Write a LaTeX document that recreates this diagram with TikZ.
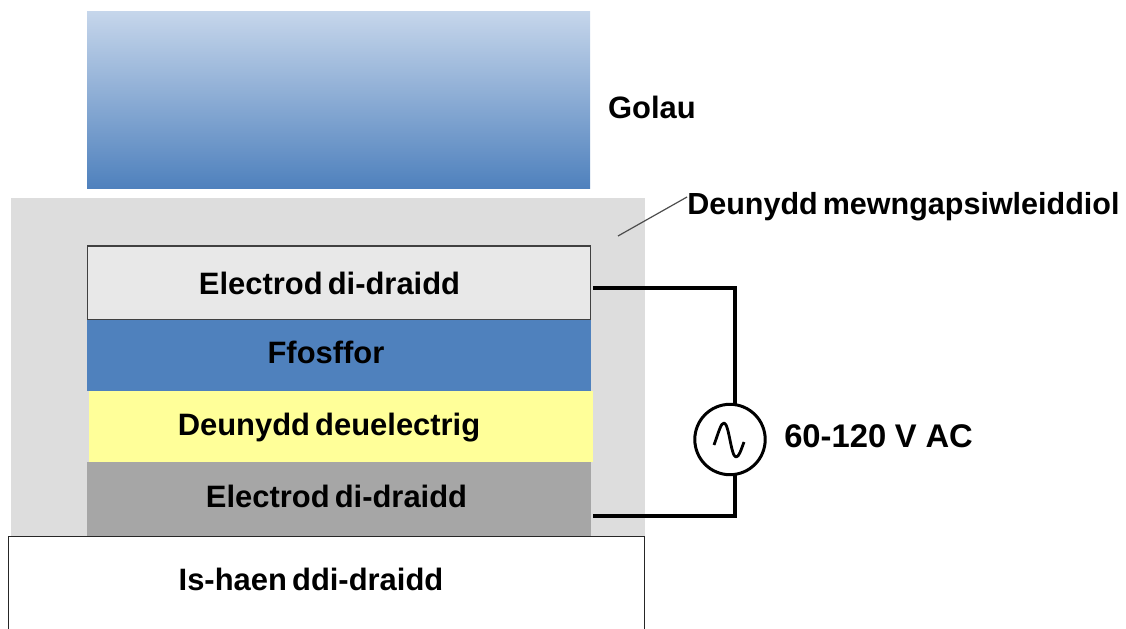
\documentclass[tikz,border=0pt]{standalone}
\usepackage{fontspec}
\setmainfont[WordSpace=0.6]{Liberation Sans}
\definecolor{lightblue}{HTML}{C6D6EB}
\definecolor{phosphor}{HTML}{4F81BD}
\definecolor{dielectric}{HTML}{FFFF99}
\definecolor{encap}{HTML}{DDDDDD}
\definecolor{electrode}{HTML}{E8E8E8}
\definecolor{backelectrode}{HTML}{A6A6A6}
\begin{document}
\begin{tikzpicture}[x=0.25mm, y=-0.25mm,
  lbl/.style = {font=\fontsize{22}{26}\selectfont\bfseries, inner sep=0pt},
  layer/.style = {inner sep=0pt, outer sep=0pt, minimum width=126mm, minimum height=17.75mm},
  wire/.style = {line width=0.8mm, black}]
\useasboundingbox (0,0) rectangle (1126,629);
% light and encapsulation
\shade[top color=lightblue, bottom color=phosphor] (87,11) rectangle (590,188);
\fill[encap] (11,198) rectangle (645,536);
% stack of layers
\node[layer, fill=electrode, draw=black!75, line width=0.3mm, minimum width=125.75mm, minimum height=18.5mm] (top) at (339,283) {};
\node[layer, fill=phosphor] (phos) at (339,355) {};
\node[layer, fill=dielectric] (diel) at (341,426.5) {};
\node[layer, fill=backelectrode, minimum height=18.5mm] (back) at (339,499) {};
\node[lbl] at (329.5,283) (toplbl) {Electrod di-draidd};
\node[lbl] at (326,352) (phoslbl) {Ffosffor};
\node[lbl] at (329,428) (diellbl) {Deunydd deuelectrig};
\node[lbl] at (336.5,496) (backlbl) {Electrod di-draidd};
% substrate
\node[draw=black!85, fill=white, line width=0.3mm, outer sep=0pt, minimum width=159mm, minimum height=30mm, anchor=north west] (sub) at (8.5,536.5) {};
\node[lbl] at (311,579) (sublbl) {Is-haen ddi-draidd};
% labels on the right
\node[lbl] at (652,107) (light) {Golau};
\node[lbl, font=\fontsize{21.7}{26}\selectfont\bfseries, anchor=west] at (687,207) (enc) {Deunydd mewngapsiwleiddiol};
\coordinate (encpt) at (618,236);
\draw[black!70, line width=0.3mm] (enc.north west |- 0,197) -- (encpt);
% circuit
\node[draw, circle, line width=0.75mm, minimum size=17.6mm, inner sep=0pt, outer sep=0pt] (ac) at (730,439.5) {};
\node[lbl, font=\fontsize{23.3}{28}\selectfont\bfseries, anchor=west] at (784,436) (volt) {60-120\hspace{0.1em} V\hspace{0.1em} AC};
\coordinate (topstart) at (593,288);
\coordinate (botstart) at (593,516);
\coordinate (topcorner) at (735,288);
\coordinate (botcorner) at (735,516);
\draw[wire] (topstart) -- (topcorner) -- (topcorner |- ac.north);
\draw[wire] (botstart) -- (botcorner) -- (botcorner |- ac.south);
\draw[line width=0.7mm, line join=round] (714,445) .. controls (719,431) and (721,423) .. (724,423) .. controls (729,423) and (731,457) .. (736,457) .. controls (739,457) and (741,450) .. (744,442);
\end{tikzpicture}
\end{document}
